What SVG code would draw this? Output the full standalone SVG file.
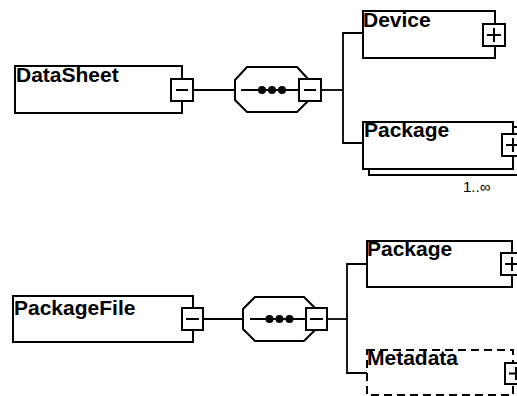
<svg xmlns="http://www.w3.org/2000/svg" width="517" height="396" viewBox="0 0 517 396">
<style>
.box{fill:#fff;stroke:#000;stroke-width:2}
.dash{fill:#fff;stroke:#000;stroke-width:2;stroke-dasharray:8,5}
.btn{fill:#fff;stroke:#000;stroke-width:2}
.sign{stroke:#000;stroke-width:2;fill:none}
.line{stroke:#000;stroke-width:1.8;fill:none}
.lbl{font-family:"Liberation Sans",Arial,sans-serif;font-weight:bold;font-size:21px;fill:#000}
.card{font-family:"Liberation Sans",Arial,sans-serif;font-size:15px;fill:#000}
</style>
<rect width="517" height="396" fill="#fff"/>
<g id="connectors">
<line class="line" x1="193" y1="90" x2="235" y2="90"/>
<line class="line" x1="241" y1="90" x2="299" y2="90"/>
<line class="line" x1="321" y1="90" x2="343" y2="90"/>
<polyline class="line" points="363,33 343,33 343,143 363,143"/>
<line class="line" x1="203" y1="319" x2="243" y2="319"/>
<line class="line" x1="250" y1="319" x2="306" y2="319"/>
<line class="line" x1="327" y1="319" x2="347" y2="319"/>
<polyline class="line" points="367,264 347,264 347,373 367,373"/>
</g>
<g id="DataSheet">
<rect class="box" x="15" y="66" width="167" height="47"/>
<text class="lbl" x="16" y="82">DataSheet</text>
<rect class="btn" x="171" y="79" width="22" height="22"/>
<line class="sign" x1="176" y1="90" x2="188" y2="90"/>
</g>
<g id="sequence1">
<polygon class="box" points="235,80 247,67 297,67 309,80 309,100 297,112 247,112 235,100"/>
<line class="line" x1="241" y1="90" x2="299" y2="90"/>
<circle cx="262" cy="90" r="4"/>
<circle cx="272" cy="90" r="4"/>
<circle cx="282" cy="90" r="4"/>
<rect class="btn" x="299" y="79" width="22" height="22"/>
<line class="sign" x1="304" y1="90" x2="316" y2="90"/>
</g>
<g id="Device">
<rect class="box" x="363" y="11" width="132" height="47"/>
<text class="lbl" x="363" y="27">Device</text>
<rect class="btn" x="483" y="24" width="22" height="22"/>
<line class="sign" x1="487" y1="35" x2="501" y2="35"/>
<line class="sign" x1="494" y1="28" x2="494" y2="42"/>
</g>
<g id="Package1">
<rect class="box" x="369" y="127" width="152" height="48"/>
<rect class="box" x="363" y="122" width="150" height="47"/>
<text class="lbl" x="364" y="137">Package</text>
<rect class="btn" x="502" y="134" width="22" height="22"/>
<line class="sign" x1="506" y1="145" x2="520" y2="145"/>
<line class="sign" x1="513" y1="138" x2="513" y2="152"/>
<text class="card" x="463" y="192">1..∞</text>
</g>
<g id="PackageFile">
<rect class="box" x="13" y="296" width="180" height="46"/>
<text class="lbl" x="14" y="315">PackageFile</text>
<rect class="btn" x="182" y="308" width="21" height="22"/>
<line class="sign" x1="186" y1="319" x2="199" y2="319"/>
</g>
<g id="sequence2">
<polygon class="box" points="243,309 255,297 304,297 316,309 316,329 304,341 255,341 243,329"/>
<line class="line" x1="250" y1="319" x2="306" y2="319"/>
<circle cx="269.5" cy="319" r="4"/>
<circle cx="279.5" cy="319" r="4"/>
<circle cx="289.5" cy="319" r="4"/>
<rect class="btn" x="306" y="308" width="21" height="22"/>
<line class="sign" x1="310" y1="319" x2="323" y2="319"/>
</g>
<g id="Package2">
<rect class="box" x="367" y="241" width="145" height="46"/>
<text class="lbl" x="367" y="256">Package</text>
<rect class="btn" x="501" y="253" width="22" height="22"/>
<line class="sign" x1="505" y1="264" x2="519" y2="264"/>
<line class="sign" x1="512" y1="257" x2="512" y2="271"/>
</g>
<g id="Metadata">
<rect class="dash" x="367" y="350" width="146" height="45"/>
<text class="lbl" x="367" y="365">Metadata</text>
<rect class="btn" x="505" y="363" width="22" height="21"/>
<line class="sign" x1="509" y1="373.5" x2="523" y2="373.5"/>
<line class="sign" x1="516" y1="367" x2="516" y2="380"/>
</g>
</svg>
